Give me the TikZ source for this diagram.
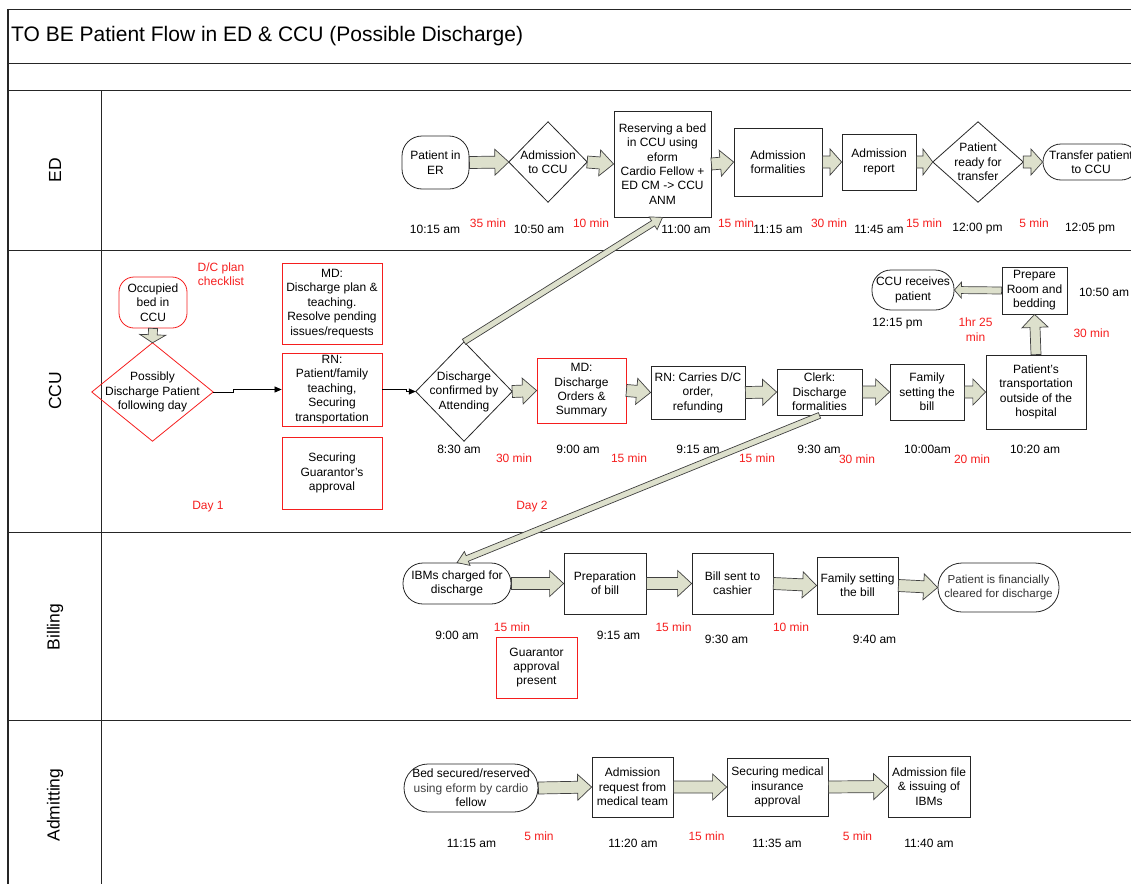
\documentclass[tikz,border=0pt]{standalone}
\usepackage{fontspec}
\setmainfont{Liberation Sans}
\usetikzlibrary{calc,arrows.meta}
\definecolor{afill}{RGB}{221,224,204}
\definecolor{rd}{RGB}{245,30,30}
\newcommand\myfont{\fontsize{12}{14.4}\selectfont}
\newcommand\fatarr[5]{%
\path[draw=black!75,fill=afill,line width=0.7pt,line join=miter] let \p1=($#5-#4$), \n1={atan2(\y1,\x1)}, \n2={veclen(\x1,\y1)}, \n3={min(#3,0.6*\n2)} in [shift={#4},rotate=\n1] (0pt,-#1pt) -- ({(\n2-\n3)*1pt},-#1pt) -- ({(\n2-\n3)*1pt},-#2pt) -- ({\n2*1pt},0pt) -- ({(\n2-\n3)*1pt},#2pt) -- ({(\n2-\n3)*1pt},#1pt) -- (0pt,#1pt) -- cycle;}
\newcommand\stdarr[2]{\fatarr{6}{13}{14}{#1}{#2}}
\newcommand\diam[2]{\draw[#2] (#1.north) -- (#1.east) -- (#1.south) -- (#1.west) -- cycle;}
\tikzset{
  every node/.style={font=\myfont, inner sep=0pt, align=center},
  box/.style={draw=black!85, line width=0.8pt},
  rbox/.style={draw=rd, line width=0.8pt},
  stad/.style={draw=black!85, line width=0.8pt, rounded corners=#1},
  rstad/.style={draw=rd, line width=0.8pt, rounded corners=#1},
  tm/.style={text=black},
  dur/.style={text=rd},
  lane/.style={rotate=90, font=\fontsize{17.5}{20}\selectfont},
  grid/.style={line width=0.9pt, draw=black!85}
}
\begin{document}
\begin{tikzpicture}[x=1pt,y=-1pt]
\useasboundingbox (0,0) rectangle (1131,883);
\clip (0,0) rectangle (1131,883);
% frame
\draw[grid] (8,9) -- (1140,9);
\draw[grid] (8,63) -- (1140,63);
\draw[grid] (8,90) -- (1140,90);
\draw[grid] (8,250) -- (1140,250);
\draw[grid] (8,532) -- (1140,532);
\draw[grid] (8,720) -- (1140,720);
\draw[line width=1.4pt,draw=black!85] (8,9) -- (8,890);
\draw[grid] (101,90) -- (101,890);
\node[anchor=west, font=\fontsize{21}{24}\selectfont] (title) at (11,36) {TO BE Patient Flow in ED \& CCU (Possible Discharge)};
\node[lane] (lED) at (55,170) {ED};
\node[lane] (lCCU) at (55,391) {CCU};
\node[lane] (lBill) at (55,627) {Billing};
\node[lane] (lAdm) at (55,805) {Admitting};

% ===== ED lane =====
\node[stad=20pt, minimum width=67pt, minimum height=53pt] (er) at (435.5,162.5) {Patient in\\ER};
\node[minimum width=78pt, minimum height=80pt] (adm) at (548,162) {Admission\\to CCU};
\diam{adm}{draw=black!85, line width=0.8pt}
\node[box, minimum width=97pt, minimum height=106pt] (res) at (662.5,164) {Reserving a bed\\in CCU using\\eform\\Cardio Fellow +\\ED CM -> CCU\\ANM};
\node[box, minimum width=88pt, minimum height=68pt] (aform) at (778,162) {Admission\\formalities};
\node[box, minimum width=74pt, minimum height=56pt] (arep) at (879,162) {Admission\\report};
\node[minimum width=90pt, minimum height=80pt] (prt) at (978,162) {Patient\\ready for\\transfer};
\diam{prt}{draw=black!85, line width=0.8pt}
\node[stad=18pt, minimum width=96pt, minimum height=36pt] (tr) at (1091,162) {Transfer patient\\to CCU};
\stdarr{(er.east)}{(adm.west)}
\stdarr{(adm.east)}{(res.west)}
\stdarr{(res.east)}{(aform.west)}
\stdarr{(aform.east)}{(arep.west)}
\stdarr{(arep.east)}{(prt.west)}
\stdarr{(prt.east)}{(tr.west)}
\node[tm] (t1) at (435,229) {10:15 am};
\node[dur] (d1) at (488,223) {35 min};
\node[tm] (t2) at (539,229) {10:50 am};
\node[dur] (d2) at (591,223) {10 min};
\node[tm] (t3) at (686,229) {11:00 am};
\node[dur] (d3) at (736,223) {15 min};
\node[tm] (t4) at (778,229) {11:15 am};
\node[dur] (d4) at (829,223) {30 min};
\node[tm] (t5) at (879,229) {11:45 am};
\node[dur] (d5) at (924,223) {15 min};
\node[tm] (t6) at (977.5,229) {12:00 pm};
\node[dur] (d6) at (1034,223) {5 min};
\node[tm] (t7) at (1090,229) {12:05 pm};

% ===== CCU lane =====
\node[rstad=15pt, minimum width=68pt, minimum height=51pt] (occ) at (153,302.5) {Occupied\\bed in\\CCU};
\node[minimum width=121pt, minimum height=98pt] (pos) at (152.5,392) {Possibly\\Discharge Patient\\following day};
\diam{pos}{draw=rd, line width=0.8pt}
\fatarr{4.5}{13}{8}{(occ.south)}{(pos.north)}
\node[dur] (dcpl) at (221,274) {D/C plan\\checklist};
\node[rbox, minimum width=100pt, minimum height=81pt] (md1) at (332,303.5) {MD:\\Discharge plan \&\\teaching.\\Resolve pending\\issues/requests};
\node[rbox, minimum width=100pt, minimum height=73pt] (rn1) at (332,389.5) {RN:\\Patient/family\\teaching,\\Securing\\transportation};
\node[rbox, minimum width=100pt, minimum height=72pt] (sga) at (332,473) {Securing\\Guarantor’s\\approval};
\node[dur] (day1) at (208,507) {Day 1};
\node[minimum width=96pt, minimum height=99pt] (dc) at (464,391.5) {Discharge\\confirmed by\\Attending};
\diam{dc}{draw=black!85, line width=0.8pt}
\draw[line width=0.7pt, -{Triangle[length=7pt,width=6pt]}] (pos.east) -- ++(20,0) |- (rn1.west);
\draw[line width=0.7pt, -{Triangle[length=7pt,width=6pt]}] (rn1.east) -- ++(24,0) |- (dc.west);
\node[rbox, minimum width=89pt, minimum height=65pt] (md2) at (581.5,390.5) {MD:\\Discharge\\Orders \&\\Summary};
\node[box, minimum width=94pt, minimum height=53pt] (rn2) at (698,392.5) {RN: Carries D/C\\order,\\refunding};
\node[box, minimum width=85pt, minimum height=46pt] (clerk) at (819.5,392) {Clerk:\\Discharge\\formalities};
\node[box, minimum width=74pt, minimum height=56pt] (fsb) at (927,392) {Family\\setting the\\bill};
\node[box, minimum width=100pt, minimum height=74pt] (ptr) at (1036,392) {Patient’s\\transportation\\outside of the\\hospital};
\node[box, minimum width=65pt, minimum height=47pt] (prep) at (1034.5,290.5) {Prepare\\Room and\\bedding};
\node[stad=19pt, minimum width=82pt, minimum height=40pt] (ccur) at (913,290) {CCU receives\\patient};
\stdarr{(dc.east)}{(md2.west)}
\stdarr{(md2.east)}{(rn2.west)}
\stdarr{(rn2.east)}{(clerk.west)}
\stdarr{(clerk.east)}{(fsb.west)}
\stdarr{(fsb.east)}{(ptr.west)}
\fatarr{5}{13}{13}{(ptr.north)}{(prep.south)}
\fatarr{3.5}{8}{7}{(prep.west)}{(ccur.east)}
\fatarr{3}{7.5}{11}{(dc.north)}{(res.south)}
\node[tm] (t8) at (459,449) {8:30 am};
\node[dur] (d8) at (514,458) {30 min};
\node[tm] (t9) at (578,449) {9:00 am};
\node[dur] (d9) at (629,458) {15 min};
\node[tm] (t10) at (698,449) {9:15 am};
\node[dur] (d10) at (757,458) {15 min};
\node[tm] (t11) at (819,449) {9:30 am};
\node[dur] (d11) at (857,459) {30 min};
\node[tm] (t12) at (927.5,449) {10:00am};
\node[dur] (d12) at (972,459) {20 min};
\node[tm] (t13) at (1035,449) {10:20 am};
\node[tm] (t14) at (897.5,324) {12:15 pm};
\node[dur] (d14) at (975.5,329.5) {1hr 25\\min};
\node[dur] (d15) at (1091.5,333) {30 min};
\node[tm] (t15) at (1104,292) {10:50 am};
\node[dur] (day2) at (532,507) {Day 2};

% ===== Billing lane =====
\node[stad=20pt, minimum width=108pt, minimum height=41pt] (ibm) at (457,583.5) {IBMs charged for\\discharge};
\node[box, minimum width=82pt, minimum height=61pt] (prb) at (605,583.5) {Preparation\\of bill};
\node[box, minimum width=81pt, minimum height=61pt] (bsc) at (732.5,583.5) {Bill sent to\\cashier};
\node[box, minimum width=81pt, minimum height=57pt] (fsb2) at (857.5,585.5) {Family setting\\the bill};
\node[stad=24pt, minimum width=121pt, minimum height=49pt, text=black!80, font=\fontsize{11.6}{14}\selectfont] (pfc) at (998.5,587.5) {Patient is financially\\cleared for discharge};
\node[rbox, minimum width=81pt, minimum height=61pt] (gap) at (536.5,667.5) {Guarantor\\approval\\present};
\fatarr{3}{7.5}{11}{(clerk.south)}{(ibm.north)}
\stdarr{(ibm.east)}{(prb.west)}
\stdarr{(prb.east)}{(bsc.west)}
\stdarr{(bsc.east)}{(fsb2.west)}
\stdarr{(fsb2.east)}{(pfc.west)}
\node[tm] (t16) at (457,635) {9:00 am};
\node[dur] (d16) at (512,627) {15 min};
\node[tm] (t17) at (618.5,635) {9:15 am};
\node[dur] (d17) at (673.5,627) {15 min};
\node[tm] (t18) at (726.5,639) {9:30 am};
\node[dur] (d18) at (791,627) {10 min};
\node[tm] (t19) at (874.5,639) {9:40 am};

% ===== Admitting lane =====
\node[stad=24pt, minimum width=134pt, minimum height=48pt] (bsr) at (471,788) {Bed secured/reserved\\{\color{black!75}using eform by cardio}\\fellow};
\node[box, minimum width=81pt, minimum height=60pt] (arm) at (632.5,787) {Admission\\request from\\medical team};
\node[box, minimum width=101pt, minimum height=58pt] (smi) at (777.5,787) {Securing medical\\insurance\\approval};
\node[box, minimum width=82pt, minimum height=61pt] (afi) at (929,786.5) {Admission file\\\& issuing of\\IBMs};
\stdarr{(bsr.east)}{(arm.west)}
\stdarr{(arm.east)}{(smi.west)}
\stdarr{(smi.east)}{(afi.west)}
\node[tm] (t20) at (471.5,843) {11:15 am};
\node[dur] (d20) at (539,836) {5 min};
\node[tm] (t21) at (633,843) {11:20 am};
\node[dur] (d21) at (706.5,836) {15 min};
\node[tm] (t22) at (777,843) {11:35 am};
\node[dur] (d22) at (857.5,836) {5 min};
\node[tm] (t23) at (929,843) {11:40 am};
\end{tikzpicture}
\end{document}
